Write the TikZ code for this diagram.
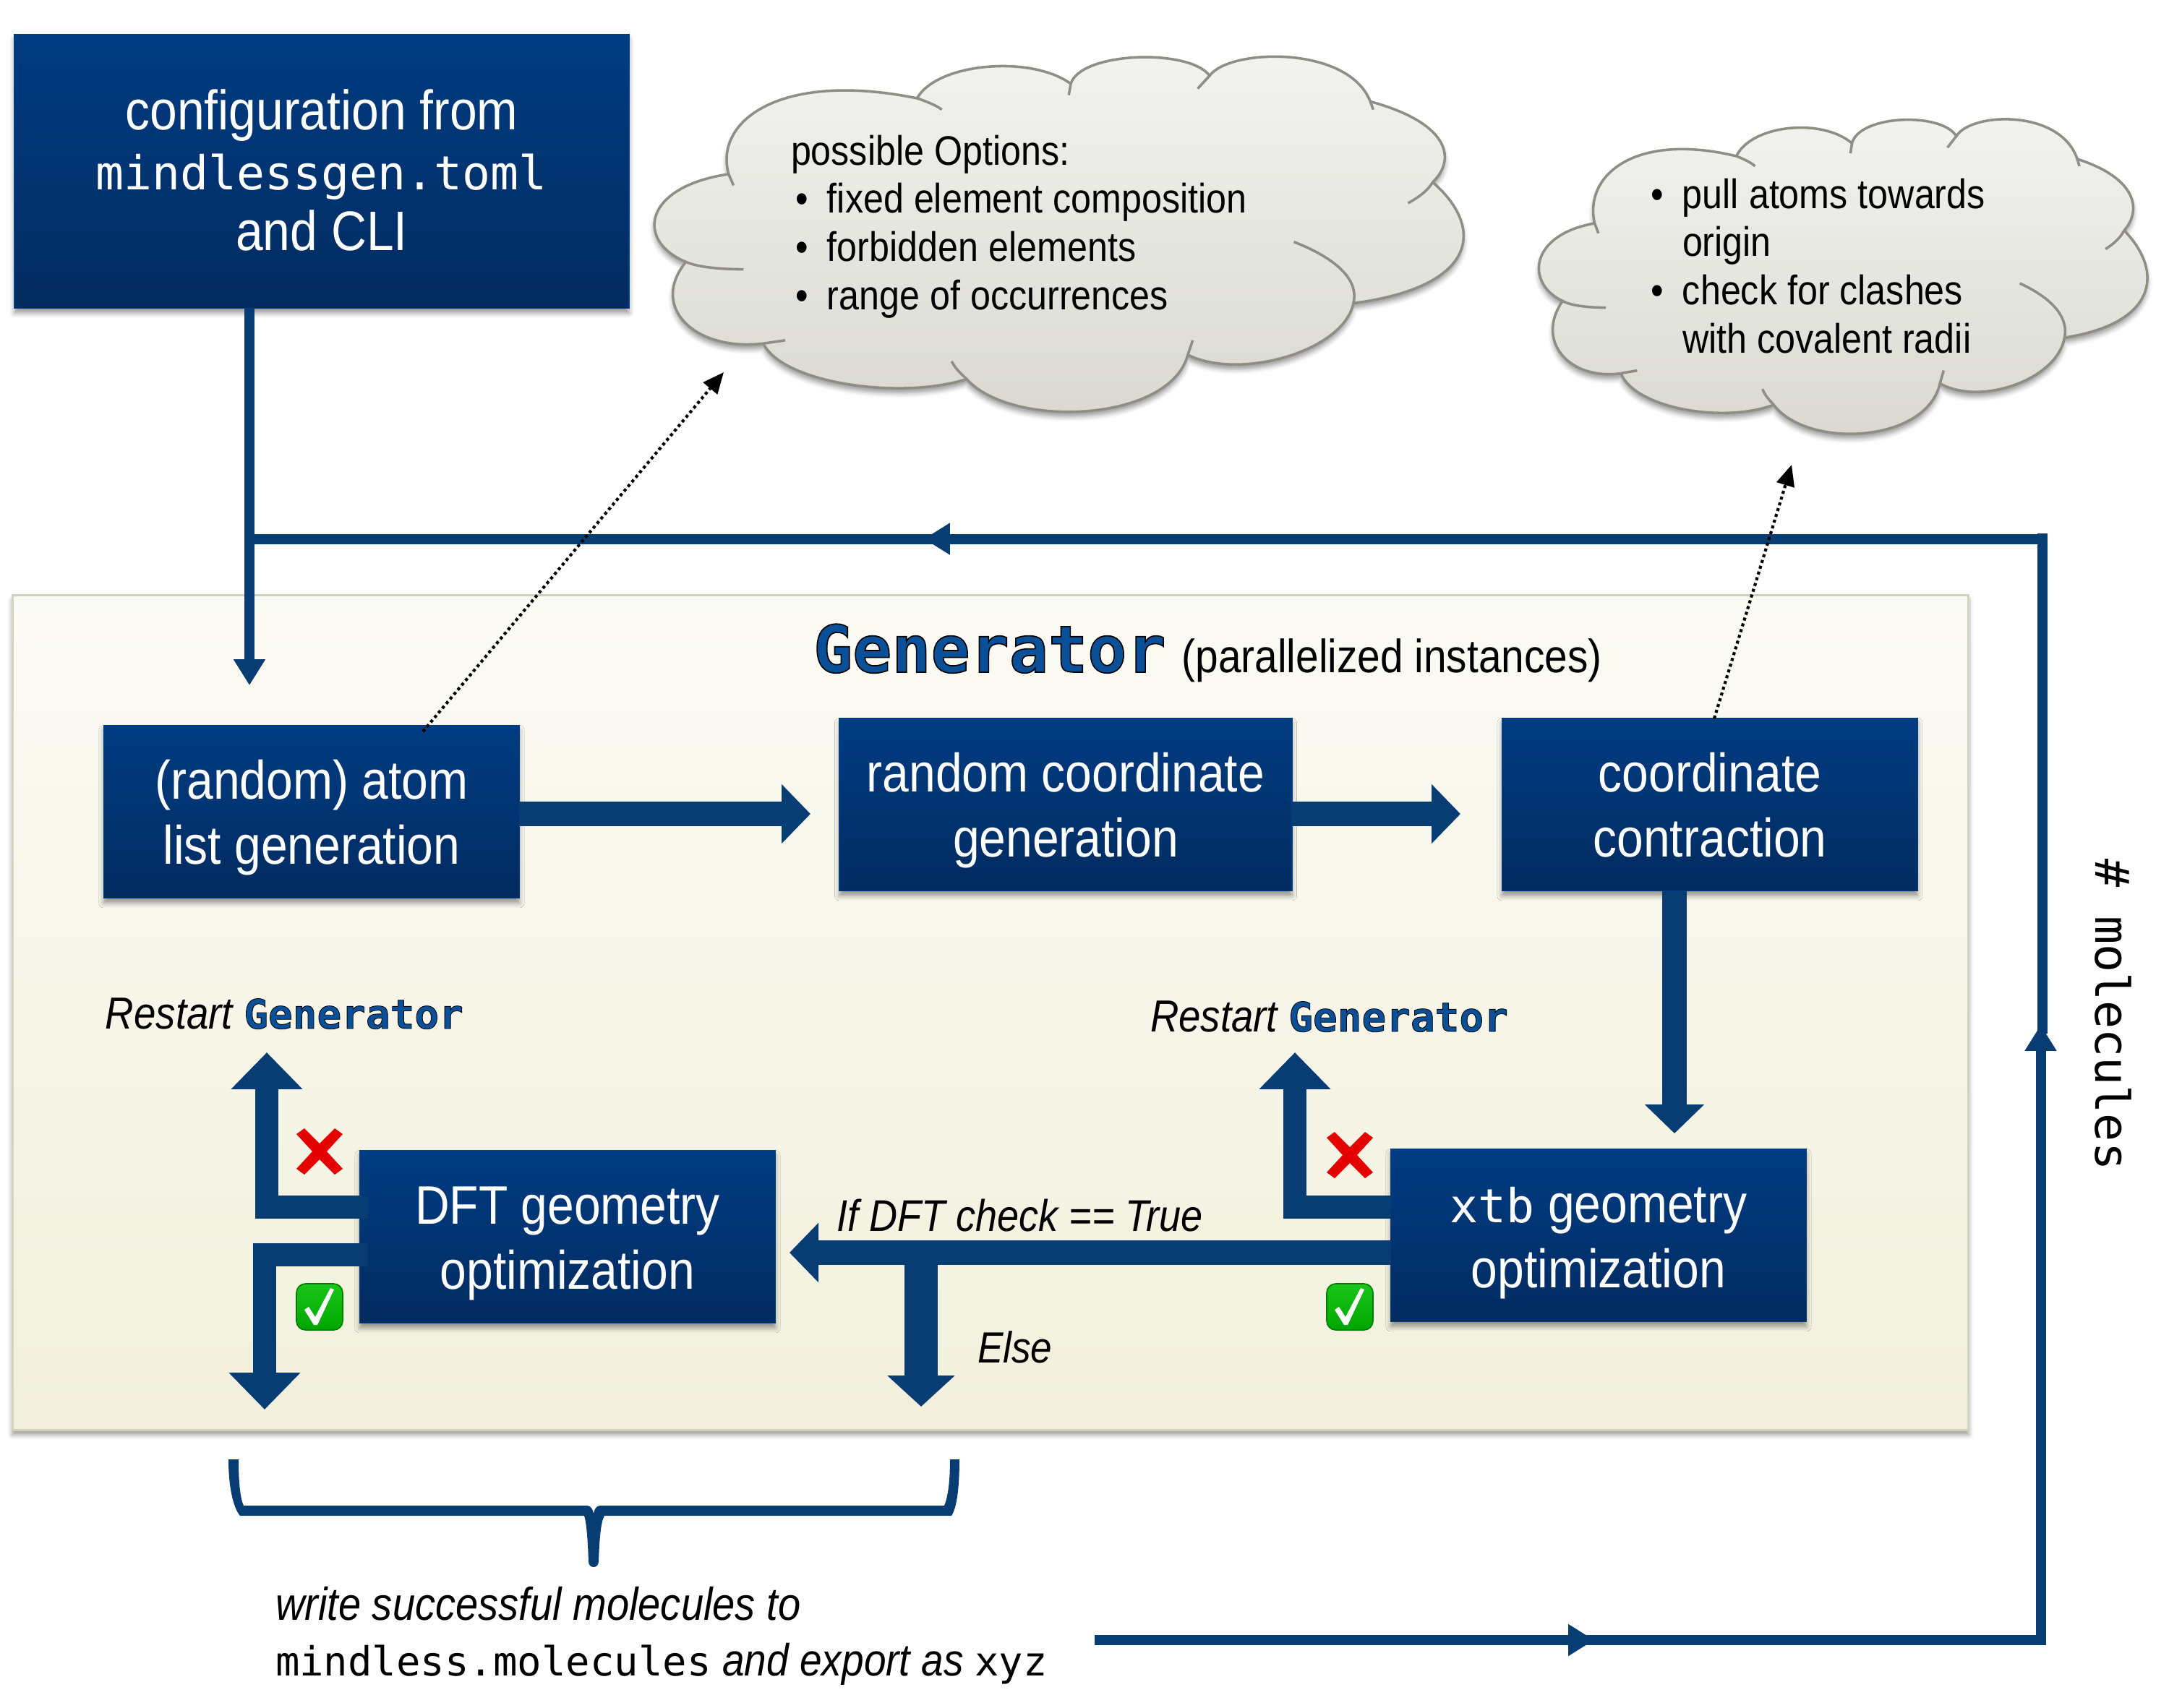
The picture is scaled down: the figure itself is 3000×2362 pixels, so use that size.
\documentclass[tikz,border=0pt]{standalone}
\usepackage{fontspec}
\setmainfont[FakeStretch=0.88]{Liberation Sans}
\setmonofont{DejaVu Sans Mono}
\usetikzlibrary{arrows.meta,shadows.blur,calc}
\definecolor{boxtop}{HTML}{003C82}
\definecolor{boxbot}{HTML}{022B60}
\definecolor{flowc}{HTML}{083D74}
\definecolor{genc}{HTML}{0A5098}
\definecolor{cloudline}{HTML}{8E8E84}
\definecolor{cloudtop}{HTML}{F3F4F0}
\definecolor{cloudbot}{HTML}{D8D8D0}
\definecolor{panelt}{HTML}{FBFBF5}
\definecolor{panelb}{HTML}{F2F0DC}
\definecolor{panelline}{HTML}{D2D2BE}
\newcommand{\fs}[2]{\fontsize{#1pt}{#2pt}\selectfont}
\newcommand{\bul}{\makebox[12pt][l]{\hspace{1.5pt}•}}
\newcommand{\nobul}{\makebox[12pt][l]{}}
\newcommand{\topS}{\rule{0pt}{19.5pt}}
\newcommand{\topC}{\rule{0pt}{18.4pt}}
% #1 size, #2 outline width
\newcommand{\genword}[2]{{\upshape\ttfamily\bfseries\fontsize{#1pt}{#1pt}\selectfont\color{genc}\special{pdf:code q 2 Tr #2 w 0 0 0 RG}Generator\special{pdf:code Q}}}
\newcommand{\cloudshape}{
  (72,722) .. controls (22,660) and (27,490) .. (115,450)
  .. controls (100,280) and (170,130) .. (305,215)
  .. controls (325,105) and (420,80) .. (460,170)
  .. controls (470,70) and (580,60) .. (600,145)
  .. controls (620,60) and (740,50) .. (762,225)
  .. controls (840,290) and (850,400) .. (825,475)
  .. controls (879,620) and (869,800) .. (745,850)
  .. controls (735,1000) and (630,1090) .. (578,1010)
  .. controls (560,1220) and (400,1240) .. (355,1085)
  .. controls (290,1150) and (170,1100) .. (150,975)
  .. controls (80,1000) and (35,860) .. (72,722) -- cycle}
\newcommand{\cloudtails}{
  \draw[cloudl] (72,722) .. controls (85,740) and (110,745) .. (130,745);
  \draw[cloudl] (115,450) -- (120,485);
  \draw[cloudl] (305,215) .. controls (315,225) and (325,238) .. (330,250);
  \draw[cloudl] (460,170) -- (458,205);
  \draw[cloudl] (600,145) -- (588,185);
  \draw[cloudl] (762,225) -- (765,250);
  \draw[cloudl] (825,475) .. controls (820,500) and (812,520) .. (800,540);
  \draw[cloudl] (685,660) .. controls (735,720) and (750,790) .. (745,850);
  \draw[cloudl] (578,1010) -- (583,965);
  \draw[cloudl] (355,1085) .. controls (348,1065) and (343,1050) .. (340,1030);
  \draw[cloudl] (150,975) -- (172,965);
}
\tikzset{
  softshadow/.style={blur shadow={shadow xshift=0pt,shadow yshift=-1.6pt,shadow blur radius=1.6pt,shadow opacity=40}},
  bluebox/.style={rectangle,top color=boxtop,bottom color=boxbot,draw=boxtop,line width=.3pt,text=white,align=center,softshadow,inner sep=0pt},
  cloudl/.style={draw=cloudline,line width=.85pt},
  cloudbody/.style={top color=cloudtop,bottom color=cloudbot,draw=cloudline,line width=.85pt,line join=round,softshadow},
  flow/.style={draw=flowc,line width=#1*.24pt,line join=miter},
  flow/.default=33,
  tipbig/.style={-{Triangle[length=12.2pt,width=23pt]}},
  tipmid/.style={-{Triangle[length=9.6pt,width=19.2pt]}},
  tipelse/.style={-{Triangle[length=10.3pt,width=21.8pt]}},
  loopline/.style={draw=flowc,line width=3.36pt,line join=miter},
  looptip/.style={-{Triangle[length=8.6pt,width=10pt]}},
  dotarrow/.style={draw=black,line width=1pt,densely dotted,-{Triangle[length=7pt,width=6pt]}},
  lab/.style={anchor=base west,inner sep=0pt,outer sep=0pt},
}
\begin{document}
\begin{tikzpicture}[x=0.24pt,y=-0.24pt]
\useasboundingbox (0,0) rectangle (3000,2362);
% panel
\node[rectangle,minimum width=649.4pt,minimum height=277pt,inner sep=0pt,top color=panelt,bottom color=panelb,draw=panelline,line width=.7pt,softshadow] (panel) at (1370,1401) {};
% clouds
\begin{scope}[shift={(850,40)},xscale=1.3717,yscale=.4464]
  \shade[cloudbody] \cloudshape;
  \cloudtails
\end{scope}
\begin{scope}[shift={(2087,131)},xscale=1.0315,yscale=.3954]
  \shade[cloudbody] \cloudshape;
  \cloudtails
\end{scope}
\node[lab,align=left,font=\fs{13.7}{16}] (opts) at (1094,428) {possible Options:\\\bul fixed element composition\\\bul forbidden elements\\\bul range of occurrences};
\node[lab,align=left,font=\fs{13.7}{16}] (pull) at (2277,488) {\bul pull atoms towards\\\nobul origin\\\bul check for clashes\\\nobul with covalent radii};
% boxes
\node[bluebox,minimum width=204pt,minimum height=91pt,font=\fs{18.5}{20}] (cfg) at (445,237) {\topC configuration from\\\strut\ttfamily\fontsize{15.55pt}{20pt}\selectfont mindlessgen.toml\\\strut and CLI};
\node[bluebox,minimum width=138pt,minimum height=57.4pt,font=\fs{18}{21.5}] (atom) at (431,1123) {\topS (random) atom\\\strut list generation};
\node[bluebox,minimum width=150.2pt,minimum height=57.4pt,font=\fs{18}{21.5}] (rand) at (1474,1113) {\topS random coordinate\\\strut generation};
\node[bluebox,minimum width=138pt,minimum height=57.4pt,font=\fs{18}{21.5}] (contr) at (2365,1113) {\topS coordinate\\\strut contraction};
\node[bluebox,minimum width=138pt,minimum height=57.4pt,font=\fs{18}{21.5}] (xtb) at (2211,1709) {\topS{\ttfamily\fontsize{15.55pt}{20pt}\selectfont xtb} geometry\\\strut optimization};
\node[bluebox,minimum width=138pt,minimum height=57.4pt,font=\fs{18}{21.5}] (dft) at (785,1711) {\topS DFT geometry\\\strut optimization};
% texts
\node[lab,font=\fs{15.5}{18}] (gen) at (1125,930) {\genword{21.6}{0.4}\hspace{1.5pt} (parallelized instances)};
\node[lab,font=\fs{14.9}{18}\itshape] (rs1) at (146,1423) {Restart \genword{13.45}{0.2}};
\node[lab,font=\fs{14.9}{18}\itshape] (rs2) at (1591,1427) {Restart \genword{13.45}{0.2}};
\node[lab,font=\fs{14.75}{18}\itshape] (iff) at (1157,1703) {If DFT check == True};
\node[lab,font=\fs{14.5}{18}\itshape] (els) at (1352,1885) {Else};
\node[lab,align=left,font=\fs{15.3}{18.3}] (wr) at (381,2318) {\itshape write successful molecules to\\{\ttfamily\fontsize{13.35pt}{16pt}\selectfont mindless.molecules} {\itshape\fontsize{15pt}{18pt}\selectfont and export as} {\ttfamily\fontsize{13.35pt}{16pt}\selectfont xyz}};
\node[anchor=center,inner sep=0pt,rotate=-90,font=\ttfamily\fs{15.6}{18}] (mol) at (2923,1404) {\# molecules};
% named free ends
\coordinate (tipA) at (1121,1126);
\coordinate (tipB) at (2020,1126);
\coordinate (tipC) at (2316,1568);
\coordinate (dftUpC) at (369,1670);
\coordinate (dftUpT) at (369,1456);
\coordinate (dftDnC) at (366,1736);
\coordinate (dftDnT) at (366,1950);
\coordinate (xtbUpC) at (1791,1670);
\coordinate (xtbUpT) at (1791,1456);
\coordinate (ifTip) at (1092,1733);
\coordinate (elseS) at (1274,1733);
\coordinate (elseT) at (1274,1946);
\coordinate (cfgTip) at (345,948);
\coordinate (loopTL) at (338,745.5);
\coordinate (loopA) at (1278,745.5);
\coordinate (loopTRa) at (2824,745.5);
\coordinate (loopTRt) at (2825,738);
\coordinate (loopTRb) at (2825,1430);
\coordinate (loopUp) at (2822.5,1418);
\coordinate (loopBR) at (2822.5,2276);
\coordinate (loopBRa) at (2828,2269);
\coordinate (loopBin) at (2185,2269);
\coordinate (loopB) at (2205,2269);
\coordinate (loopBL) at (1514,2269);
\coordinate (dot1) at (1001,515);
\coordinate (dot2) at (2478,643);
\coordinate (dot1s) at (585,1012);
\coordinate (dot2s) at (2371,994);
% thick arrows
\draw[flow=34,tipmid] (atom.east |- tipA) -- (tipA);
\draw[flow=34,tipmid] (rand.east |- tipB) -- (tipB);
\draw[flow=34,tipmid] (contr.south -| tipC) -- (tipC);
\draw[flow=32,tipbig] ([xshift=3pt]dft.west |- dftUpC) -- (dftUpC) -- (dftUpT);
\draw[flow=32,tipbig] ([xshift=3pt]dft.west |- dftDnC) -- (dftDnC) -- (dftDnT);
\draw[flow=32,tipbig] (xtb.west |- xtbUpC) -- (xtbUpC) -- (xtbUpT);
\draw[flow=34,tipmid] (xtb.west |- ifTip) -- (ifTip);
\draw[flow=46,tipelse] (elseS) -- (elseT);
% loop
\draw[loopline,looptip] (cfg.south -| cfgTip) -- (cfgTip);
\draw[loopline] (loopTRa) -- (loopTL);
\draw[loopline,looptip] (loopTRa) -- (loopA);
\draw[loopline] (loopTRt) -- (loopTRb);
\draw[loopline,looptip] (loopBR) -- (loopUp);
\draw[loopline,looptip] (loopBL) -- (loopB);
\draw[loopline] (loopBin) -- (loopBRa);
% dotted
\draw[dotarrow] (dot1s) -- (dot1);
\draw[dotarrow] (dot2s) -- (dot2);
% brace
\fill[flowc] (316,2019) -- (330,2019) .. controls (330,2050) and (332,2072) .. (337,2083) -- (812,2083) .. controls (817,2083) and (820,2088) .. (821,2094) .. controls (822,2088) and (825,2083) .. (830,2083) -- (1306,2083) .. controls (1311,2072) and (1314,2050) .. (1314,2019) -- (1327,2019) .. controls (1327,2055) and (1324,2085) .. (1316,2097) -- (836,2097) .. controls (831,2105) and (829,2130) .. (828,2160) .. controls (828,2165) and (825,2168) .. (821,2168) .. controls (817,2168) and (814,2165) .. (814,2160) .. controls (813,2130) and (811,2105) .. (808,2097) -- (332,2097) .. controls (322,2085) and (316,2055) .. (316,2019) -- cycle;
% marks
\begin{scope}[shift={(442,1593)}]
  \fill[red!90!black] (-32,-24) -- (-21,-32) -- (0,-11) -- (21,-32) -- (32,-24) -- (10,0) -- (32,24) -- (21,32) -- (0,11) -- (-21,32) -- (-32,24) -- (-10,0) -- cycle;
\end{scope}
\begin{scope}[shift={(1867,1598)}]
  \fill[red!90!black] (-32,-24) -- (-21,-32) -- (0,-11) -- (21,-32) -- (32,-24) -- (10,0) -- (32,24) -- (21,32) -- (0,11) -- (-21,32) -- (-32,24) -- (-10,0) -- cycle;
\end{scope}
\begin{scope}[shift={(442,1808)}]
  \shade[top color=green!75!black!90,bottom color=green!65!black,rounded corners=3pt,draw=green!50!black,line width=.4pt] (-32,-32) rectangle (32,32);
  \fill[white] (-21,4) -- (-15,0) -- (-6,14) -- (15,-26) -- (20,-24) -- (-3,25) -- (-8,25) -- cycle;
\end{scope}
\begin{scope}[shift={(1867,1808)}]
  \shade[top color=green!75!black!90,bottom color=green!65!black,rounded corners=3pt,draw=green!50!black,line width=.4pt] (-32,-32) rectangle (32,32);
  \fill[white] (-21,4) -- (-15,0) -- (-6,14) -- (15,-26) -- (20,-24) -- (-3,25) -- (-8,25) -- cycle;
\end{scope}
\end{tikzpicture}
\end{document}
